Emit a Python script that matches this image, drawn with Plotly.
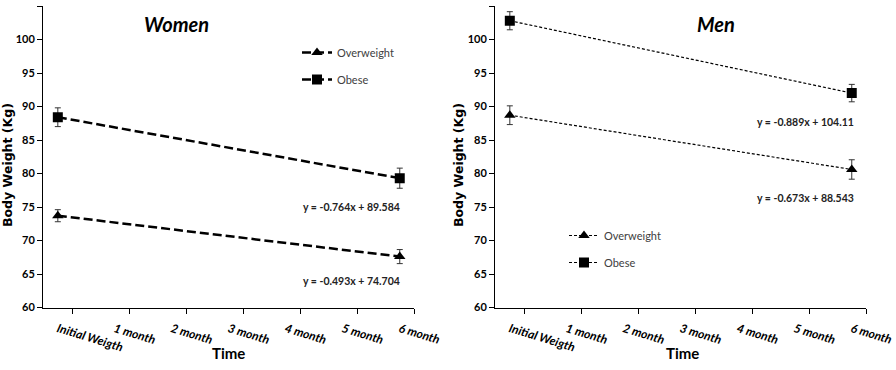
import plotly.graph_objects as go

categories = ["Initial Weigth", "1 month", "2 month", "3 month", "4 month", "5 month", "6 month"]
time_points = ["Initial Weigth", "6 month"]
y_ticks = [60, 65, 70, 75, 80, 85, 90, 95, 100, 105]

women_overweight = [73.7, 67.6]
women_overweight_err = [0.9, 1.05]
women_obese = [88.4, 79.3]
women_obese_err = [1.4, 1.5]

men_overweight = [88.7, 80.6]
men_overweight_err = [1.4, 1.45]
men_obese = [102.8, 92.0]
men_obese_err = [1.35, 1.3]

women_equations = ["y = -0.764x + 89.584", "y = -0.493x + 74.704"]
men_equations = ["y = -0.889x + 104.11", "y = -0.673x + 88.543"]

FONT = "Lato"
x_pos = [categories.index(t) for t in time_points]
cat_pos = list(range(len(categories)))

fig = go.Figure()

def add_series(y, err, name, symbol, size, width, dash, xaxis, yaxis, legend, group):
    fig.add_trace(go.Scatter(
        x=x_pos, y=y, name=name, mode="lines+markers",
        line=dict(color="black", width=width, dash=dash),
        marker=dict(symbol=symbol, size=size, color="black"),
        error_y=dict(type="data", array=err, visible=True, color="#333333", thickness=1, width=3),
        xaxis=xaxis, yaxis=yaxis, legend=legend, legendgroup=group,
    ))

add_series(women_overweight, women_overweight_err, "Overweight", "triangle-up", 10, 2.5, "9px,4px", "x", "y", "legend", "w1")
add_series(women_obese, women_obese_err, "Obese", "square", 10, 2.5, "9px,4px", "x", "y", "legend", "w2")
add_series(men_overweight, men_overweight_err, "Overweight", "triangle-up", 10, 1.2, "3px,2px", "x2", "y2", "legend2", "m1")
add_series(men_obese, men_obese_err, "Obese", "square", 10, 1.2, "3px,2px", "x2", "y2", "legend2", "m2")

xaxis_common = dict(
    range=[-0.26, 6.25], tickmode="array", tickvals=cat_pos, ticktext=categories,
    ticks="", tickangle=17, showline=True, linecolor="black", linewidth=1,
    showgrid=False, zeroline=False, automargin=False, ticklabelstandoff=9,
    tickfont=dict(family=FONT, size=12, color="black", weight="bold", style="italic"),
    minor=dict(tickmode="array", tickvals=[p + 0.25 for p in cat_pos], ticks="outside",
               ticklen=5, tickcolor="black", tickwidth=1, showgrid=False),
)
yaxis_common = dict(
    range=[60, 105], tickmode="array", tickvals=y_ticks, ticks="outside", ticklen=5,
    tickcolor="black", showline=True, linecolor="black", linewidth=1, showgrid=False,
    zeroline=False, automargin=False,
    tickfont=dict(family=FONT, size=11, color="black", weight="bold"),
)

legend_common = dict(xanchor="left", yanchor="top", bgcolor="rgba(0,0,0,0)",
                     font=dict(family=FONT, size=11, color="#404040"), tracegroupgap=8,
                     traceorder="grouped", itemwidth=30)

fig.update_layout(
    width=896, height=370, margin=dict(l=0, r=0, t=0, b=0, autoexpand=False),
    plot_bgcolor="white", paper_bgcolor="white",
    xaxis=dict(domain=[43/896, 414/896], anchor="y", **xaxis_common),
    yaxis=dict(domain=[1-307.5/370, 1-6/370], anchor="x", **yaxis_common),
    xaxis2=dict(domain=[495/896, 866/896], anchor="y2", **xaxis_common),
    yaxis2=dict(domain=[1-307.5/370, 1-6/370], anchor="x2", **yaxis_common),
    legend=dict(x=297/896, y=1-38/370, **legend_common),
    legend2=dict(x=564/896, y=1-221/370, **legend_common),
    showlegend=True,
)

eq_font = dict(family=FONT, size=10.5, color="#222222", weight="bold")
ann = [
    dict(x=5.16, y=75.0, xref="x", yref="y", text=women_equations[0]),
    dict(x=5.16, y=64.0, xref="x", yref="y", text=women_equations[1]),
    dict(x=5.19, y=87.7, xref="x2", yref="y2", text=men_equations[0]),
    dict(x=5.19, y=76.3, xref="x2", yref="y2", text=men_equations[1]),
]
for a in ann:
    fig.add_annotation(showarrow=False, font=eq_font, xanchor="center", yanchor="middle", **a)

def paper_text(x, y, text, font, angle=0):
    fig.add_annotation(x=x/896, y=1-y/370, xref="paper", yref="paper", text=text,
                       textangle=angle, showarrow=False, font=font,
                       xanchor="center", yanchor="middle")

title_font = dict(family=FONT, size=20, color="black", weight="bold", style="italic")
paper_text(176, 24, "Women", title_font)
paper_text(716, 24, "Men", title_font)

axt_font = dict(family="DejaVu Sans", size=12.5, color="black", weight="bold")
paper_text(7, 165, "Body Weight (Kg)", axt_font, -90)
paper_text(458, 165, "Body Weight (Kg)", axt_font, -90)

time_font = dict(family=FONT, size=15, color="black", weight="bold")
paper_text(228, 353, "Time", time_font)
paper_text(682, 353, "Time", time_font)

fig.write_html("out.html")
